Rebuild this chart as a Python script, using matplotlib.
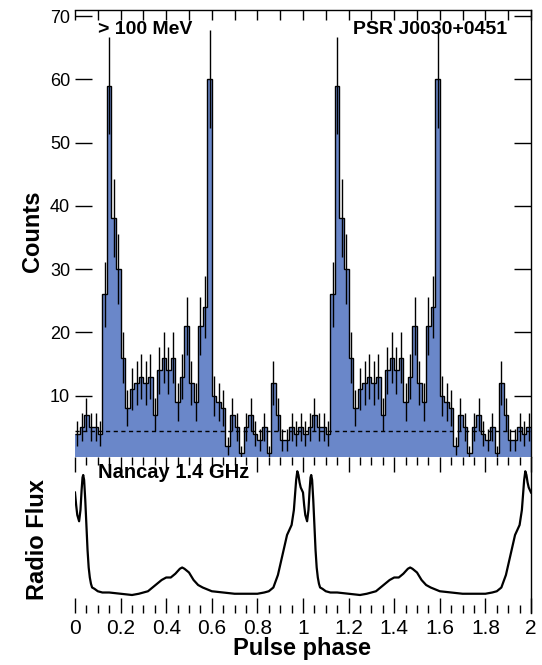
import numpy as np
import matplotlib
matplotlib.use("Agg")
import matplotlib.pyplot as plt
from matplotlib.ticker import MultipleLocator

plt.rcParams['font.family'] = ['Liberation Sans', 'DejaVu Sans']

# ---------------- data ----------------
# gamma-ray counts, one rotation, 50 phase bins (shown twice)
counts = [4, 5, 7, 5, 5, 4, 26, 59, 38, 30,
          16, 8, 11, 12, 13, 12, 13, 7, 14, 16,
          14, 16, 9, 13, 21, 12, 9, 21, 24, 60,
          10, 9, 8, 2, 7, 5, 1, 5, 7, 4,
          3, 5, 1, 12, 7, 3, 3, 5, 4, 5]
background = 4.4

# radio profile (Nancay 1.4 GHz), one rotation, normalised flux
radio_phase = [0.000, 0.005, 0.010, 0.018, 0.024, 0.029, 0.033, 0.036, 0.040, 0.045,
               0.050, 0.055, 0.060, 0.065, 0.070, 0.075, 0.085, 0.100, 0.120, 0.150,
               0.200, 0.250, 0.280, 0.300, 0.320, 0.340, 0.360, 0.380, 0.400, 0.420,
               0.440, 0.460, 0.470, 0.480, 0.500, 0.520, 0.540, 0.560, 0.600, 0.650,
               0.700, 0.750, 0.800, 0.830, 0.850, 0.870, 0.890, 0.910, 0.930, 0.940,
               0.950, 0.960, 0.965, 0.970, 0.975, 0.980, 0.985, 0.990, 0.995, 1.000]
radio_flux = [0.82, 0.72, 0.64, 0.59, 0.68, 0.84, 0.94, 0.96, 0.92, 0.76,
              0.56, 0.36, 0.22, 0.14, 0.09, 0.06, 0.05, 0.03, 0.02, 0.02,
              0.01, 0.00, 0.01, 0.02, 0.03, 0.06, 0.09, 0.12, 0.14, 0.14,
              0.17, 0.21, 0.22, 0.21, 0.18, 0.12, 0.08, 0.06, 0.03, 0.02,
              0.01, 0.01, 0.01, 0.02, 0.03, 0.06, 0.16, 0.32, 0.48, 0.52,
              0.56, 0.68, 0.80, 0.92, 0.99, 0.96, 0.90, 0.86, 0.84, 0.82]

x_ticklabels = ['0', '0.2', '0.4', '0.6', '0.8', '1', '1.2', '1.4', '1.6', '1.8', '2']
y_ticklabels = ['10', '20', '30', '40', '50', '60', '70']

# ---------------- figure ----------------
W, H = 542, 665
fig = plt.figure(figsize=(W / 100, H / 100), dpi=100)

def fx(px):
    return px / W

def fy(py):
    return 1 - py / H

blue = '#6a87c9'

ax1 = fig.add_axes([fx(75), fy(457), fx(531) - fx(75), fy(10) - fy(457)])
ax2 = fig.add_axes([fx(75), fy(613), fx(531) - fx(75), fy(457) - fy(613)])

# --- top panel: histogram ---
c2 = np.array(counts + counts, dtype=float)
edges = np.linspace(0, 2, len(c2) + 1)
centers = 0.5 * (edges[:-1] + edges[1:])
ax1.stairs(c2, edges, fill=True, color=blue, baseline=0, zorder=1)
ax1.stairs(c2, edges, color='black', lw=1.0, baseline=None, zorder=2)
ax1.errorbar(centers, c2, yerr=np.sqrt(c2), fmt='none', ecolor='black',
             elinewidth=1.0, capsize=0, zorder=3)
ax1.axhline(background, color='black', lw=1.0, ls=(0, (3, 2.5)), zorder=4)

ax1.set_xlim(0, 2)
ax1.set_ylim(0.3, 70.95)
ax1.spines['left'].set_visible(False)
ax1.spines['bottom'].set_visible(False)
ax1.spines['top'].set_linewidth(1.0)
ax1.spines['right'].set_linewidth(1.0)
ax1.set_yticks([10, 20, 30, 40, 50, 60, 70])
ax1.set_yticklabels(y_ticklabels)
ax1.tick_params(axis='y', which='major', direction='in', left=True, right=True,
                length=12, width=1.0, labelsize=13, pad=3.5)
ax1.xaxis.set_major_locator(MultipleLocator(0.1))
ax1.tick_params(axis='x', which='major', direction='in', top=True, bottom=False,
                labelbottom=False, length=7, width=1.0)

fig.text(fx(98), fy(30), '> 100 MeV', fontsize=14, fontweight='bold',
         ha='left', va='center')
fig.text(fx(507), fy(30), 'PSR J0030+0451', fontsize=14, fontweight='bold',
         ha='right', va='center')

# --- bottom panel: radio profile ---
rp = np.array(radio_phase)
rf = np.array(radio_flux)
ph2 = np.concatenate([rp, rp[1:] + 1])
fl2 = np.concatenate([rf, rf[1:]])
ax2.plot(ph2, fl2, color='black', lw=1.6)
ax2.set_xlim(0, 2)
ax2.set_ylim(-0.144, 1.104)
for s in ['left', 'bottom', 'top']:
    ax2.spines[s].set_visible(False)
ax2.spines['right'].set_linewidth(1.0)
ax2.set_yticks([])
ax2.xaxis.set_minor_locator(MultipleLocator(0.05))
ax2.set_xticks(np.arange(0, 2.01, 0.2))
ax2.set_xticklabels(x_ticklabels)
ax2.tick_params(axis='x', which='major', direction='in', top=True, bottom=True,
                length=11, width=1.0, labelsize=15, pad=4)
ax2.tick_params(axis='x', which='minor', direction='in', top=True, bottom=True,
                length=6, width=1.0)

fig.text(fx(98), fy(473), 'Nancay 1.4 GHz', fontsize=14.5, fontweight='bold',
         ha='left', va='center')

# axis titles
fig.text(fx(33), fy(231), 'Counts', fontsize=17, fontweight='bold',
         rotation=90, ha='center', va='center')
fig.text(fx(38), fy(540), 'Radio Flux', fontsize=17, fontweight='bold',
         rotation=90, ha='center', va='center')
fig.text(fx(302), fy(648), 'Pulse phase', fontsize=17, fontweight='bold',
         ha='center', va='center')

fig.savefig('out.png', dpi=100)
